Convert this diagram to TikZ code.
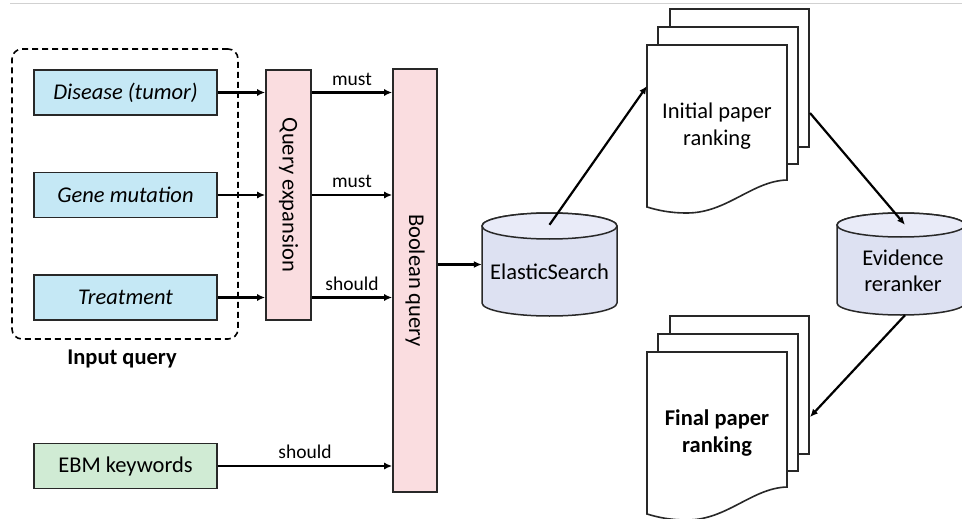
\documentclass[tikz,border=0pt]{standalone}
\usepackage{fontspec}
\setmainfont{Carlito}
\usetikzlibrary{arrows.meta}

\definecolor{linec}{RGB}{40,40,40}
\definecolor{inblue}{RGB}{197,232,245}
\definecolor{barpink}{RGB}{250,221,224}
\definecolor{ebmgreen}{RGB}{208,235,212}
\definecolor{cylside}{RGB}{221,225,242}
\definecolor{cyltop}{RGB}{233,235,248}

% database cylinder: centre x, centre y, x radius, half height, y radius of the ends
\newcommand{\dbcyl}[5]{%
  \path[draw=linec, line width=1.5pt, fill=cylside]
    ({#1-#3},{#2-#4+#5}) -- ({#1-#3},{#2+#4-#5})
    arc[start angle=180, end angle=0, x radius=#3, y radius=#5]
    -- ({#1+#3},{#2-#4+#5})
    arc[start angle=360, end angle=180, x radius=#3, y radius=#5] -- cycle;
  \path[draw=linec, line width=1.5pt, fill=cyltop]
    (#1,{#2-#4+#5}) ellipse[x radius=#3, y radius=#5];
}

% stack of three pages, the front one with a wavy lower edge; #1,#2 = top left of front page
\newcommand{\paperstack}[2]{%
  \draw[pageline] ({#1+23},{#2-36}) rectangle ({#1+162},{#2+102});
  \draw[pageline] ({#1+11},{#2-18}) rectangle ({#1+151},{#2+119});
  \draw[pageline] (#1,#2) -- ({#1+140},#2) -- ({#1+140},{#2+135})
    .. controls ({#1+105},{#2+136}) and ({#1+80},{#2+168}) .. ({#1+40},{#2+168})
    .. controls ({#1+22},{#2+168}) and ({#1+10},{#2+165}) .. (#1,{#2+162}) -- cycle;
}

\begin{document}
\begin{tikzpicture}[x=1pt, y=-1pt,
  basefont/.style={font=\fontsize{22.5}{27}\selectfont},
  inbox/.style={draw=linec, line width=1.6pt, fill=inblue, minimum width=183pt,
    minimum height=45pt, inner sep=0pt, font=\fontsize{22.5}{27}\selectfont\itshape},
  ebmbox/.style={inbox, fill=ebmgreen, font=\fontsize{22.5}{27}\selectfont},
  barbox/.style={draw=linec, line width=1.6pt, fill=barpink, inner sep=0pt},
  bartext/.style={basefont, rotate=-90},
  arr/.style={draw=black, line width=2.2pt, -{Latex[length=8pt,width=7pt]}},
  edgelabel/.style={font=\fontsize{19.5}{23}\selectfont, inner sep=2pt},
  pageline/.style={draw=linec, line width=1.6pt, fill=white},
  doctext/.style={font=\fontsize{22.5}{27}\selectfont, align=center},
]
\useasboundingbox (0,0) rectangle (962,519);
\fill[white] (0,0) rectangle (962,519);

% thin rule along the top
\draw[black!18, line width=1pt] (10,4) -- (962,4);

% input query group
\node[draw=black, line width=1.6pt, dash pattern=on 6pt off 4pt, rounded corners=10pt,
  minimum width=226pt, minimum height=290pt] (inq) at (125,194) {};
\node[inbox] (dis) at (125.5,92.5) {Disease (tumor)};
\node[inbox] (gene) at (125.5,195) {Gene mutation};
\node[inbox] (treat) at (125.5,297.5) {Treatment};
\node[font=\fontsize{22.5}{27}\selectfont\bfseries] (inlabel) at (122,359) {Input query};

\node[ebmbox] (ebm) at (125.5,466) {EBM keywords};

% query expansion and boolean query bars
\node[barbox, minimum width=45pt, minimum height=250pt] (qe) at (288.5,195) {};
\node[bartext] (qetext) at (qe) {Query expansion};
\node[barbox, minimum width=44pt, minimum height=423pt] (bq) at (415,280.5) {};
\node[bartext] (bqtext) at (bq) {Boolean query};

\draw[arr] (dis.east) -- (dis.east -| qe.west);
\draw[arr] (gene.east) -- (gene.east -| qe.west);
\draw[arr] (treat.east) -- (treat.east -| qe.west);

\draw[arr] (dis.east -| qe.east) -- (dis.east -| bq.west)
  node[midway, above, edgelabel, yshift=4pt] {must};
\draw[arr] (gene.east -| qe.east) -- (gene.east -| bq.west)
  node[midway, above, edgelabel, yshift=4pt] {must};
\draw[arr] (treat.east -| qe.east) -- (treat.east -| bq.west)
  node[midway, above, edgelabel, yshift=4pt] {should};
\draw[arr] (ebm.east) -- (ebm.east -| bq.west)
  node[midway, above, edgelabel, yshift=4pt] {should};

% ElasticSearch store
\node[minimum width=135pt, minimum height=103pt, inner sep=0pt] (es) at (549.5,264.5) {};
\dbcyl{549.5}{264.5}{67.5}{51.5}{13}
\node[basefont] (estext) at (549.5,272) {ElasticSearch};
\draw[arr] (bq.east |- es.west) -- (es.west);

% evidence reranker store
\node[minimum width=128pt, minimum height=102pt, inner sep=0pt] (ev) at (901,264) {};
\dbcyl{901}{264}{64}{51}{12}
\node[doctext, font=\fontsize{22.5}{26}\selectfont] (evtext) at (903,270.5) {Evidence\\reranker};

% paper rankings
\paperstack{647}{45}
\node[doctext] (init) at (717,126.5) {Initial paper\\ranking};
\coordinate (initin) at (647,86);
\coordinate (initout) at (810,113);

\paperstack{647}{352}
\node[doctext, font=\fontsize{22.5}{27}\selectfont\bfseries] (final) at (717,433.5) {Final paper\\ranking};
\coordinate (finin) at (810,417);

\draw[arr] ([yshift=-12pt]es.north) -- (initin);
\draw[arr] (initout) -- ([xshift=4pt,yshift=-12pt]ev.north);
\draw[arr] ([xshift=4pt]ev.south) -- (finin);
\end{tikzpicture}
\end{document}
